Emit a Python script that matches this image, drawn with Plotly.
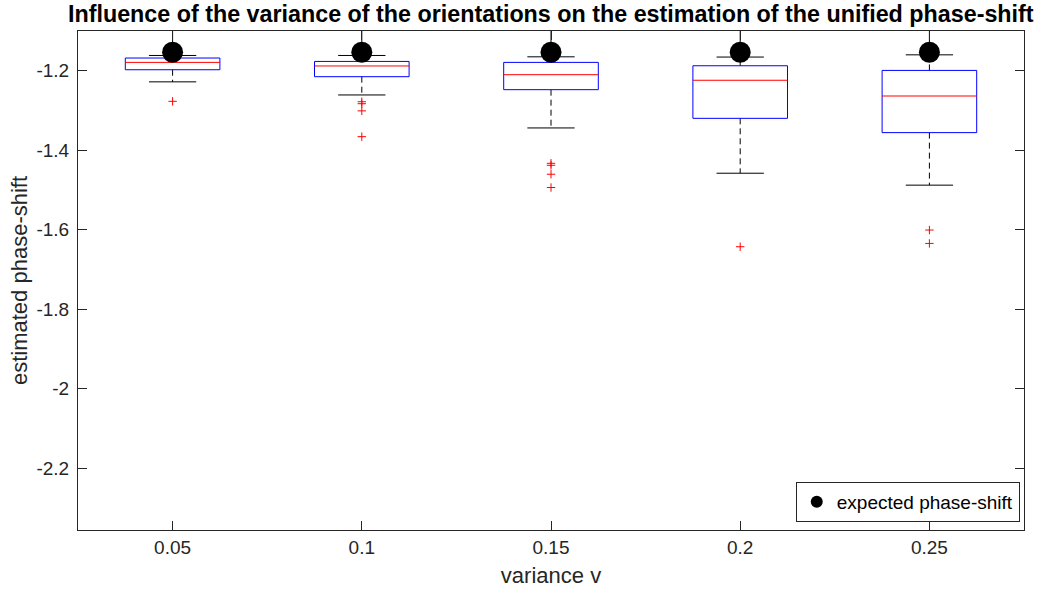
import plotly.graph_objects as go

# ---- data ----
variances = [0.05, 0.10, 0.15, 0.20, 0.25]
tick_labels = ["0.05", "0.1", "0.15", "0.2", "0.25"]
q1 = [-1.1975, -1.215, -1.2477, -1.3198, -1.3558]
median = [-1.179, -1.188, -1.210, -1.224, -1.2636]
q3 = [-1.168, -1.1766, -1.179, -1.1875, -1.1992]
lower_whisker = [-1.228, -1.261, -1.344, -1.458, -1.488]
upper_whisker = [-1.1616, -1.1616, -1.165, -1.1656, -1.160]
outliers = [
    [-1.277],
    [-1.278, -1.283, -1.301, -1.366],
    [-1.433, -1.438, -1.4605, -1.494],
    [-1.643],
    [-1.601, -1.6347],
]
expected = [-1.1535, -1.1535, -1.1535, -1.1535, -1.1535]
y_ticks = [-2.2, -2.0, -1.8, -1.6, -1.4, -1.2]
y_tick_labels = ["-2.2", "-2", "-1.8", "-1.6", "-1.4", "-1.2"]

y_range = [-2.356, -1.1]
x_range = [0.025, 0.275]
box_half = 0.0125
cap_half = 0.00625

# ---- build geometry from data ----
bx, by, mx, my, wx, wy, cx, cy, tx, ty, ox, oy = ([] for _ in range(12))
for i, x in enumerate(variances):
    bx += [x - box_half, x + box_half, x + box_half, x - box_half, x - box_half, None]
    by += [q1[i], q1[i], q3[i], q3[i], q1[i], None]
    mx += [x - box_half, x + box_half, None]
    my += [median[i], median[i], None]
    wx += [x, x, None, x, x, None]
    wy += [q1[i], lower_whisker[i], None, q3[i], upper_whisker[i], None]
    cx += [x - cap_half, x + cap_half, None, x - cap_half, x + cap_half, None]
    cy += [lower_whisker[i], lower_whisker[i], None, upper_whisker[i], upper_whisker[i], None]
    tx += [x, x, None]
    ty += [upper_whisker[i], y_range[1], None]
    for o in outliers[i]:
        ox.append(x)
        oy.append(o)

fig = go.Figure()
fig.add_trace(go.Scatter(x=wx, y=wy, mode="lines", showlegend=False, hoverinfo="skip",
                         line=dict(color="black", width=1, dash="6px,4px")))
fig.add_trace(go.Scatter(x=tx, y=ty, mode="lines", showlegend=False, hoverinfo="skip",
                         line=dict(color="black", width=1)))
fig.add_trace(go.Scatter(x=cx, y=cy, mode="lines", showlegend=False, hoverinfo="skip",
                         line=dict(color="black", width=1)))
fig.add_trace(go.Scatter(x=bx, y=by, mode="lines", showlegend=False,
                         line=dict(color="#0000ff", width=1)))
fig.add_trace(go.Scatter(x=mx, y=my, mode="lines", showlegend=False,
                         line=dict(color="#ff0000", width=1)))
fig.add_trace(go.Scatter(x=ox, y=oy, mode="markers", showlegend=False,
                         marker=dict(symbol="cross-thin", size=6, color="red",
                                     line=dict(color="red", width=1))))
fig.add_trace(go.Scatter(x=variances, y=expected, mode="markers", name="expected phase-shift",
                         marker=dict(symbol="circle", size=21, color="black")))

FONT = "Liberation Sans, Arial, sans-serif"
axis_common = dict(
    showgrid=False, zeroline=False, showline=True, linecolor="#262626", linewidth=1,
    mirror="ticks", ticks="inside", ticklen=9, tickcolor="#262626",
    tickfont=dict(family=FONT, size=19, color="#262626"),
)

fig.update_layout(
    width=1040, height=597,
    margin=dict(l=78, r=16, t=31, b=67),
    paper_bgcolor="white", plot_bgcolor="white",
    font=dict(family=FONT, color="#262626"),
    title=dict(text="<b>Influence of the variance of the orientations on the estimation of the unified phase-shift</b>",
               x=0.5296, xanchor="center", y=0.9765, yanchor="middle",
               font=dict(size=23.3, color="black")),
    xaxis=dict(range=x_range, tickvals=variances, ticktext=tick_labels,
               title=dict(text="variance v", font=dict(size=22), standoff=10), **axis_common),
    yaxis=dict(range=y_range, tickvals=y_ticks, ticktext=y_tick_labels, ticklabelstandoff=4,
               title=dict(text="estimated phase-shift", font=dict(size=22), standoff=2), **axis_common),
    legend=dict(x=0.9955, y=0.016, xanchor="right", yanchor="bottom",
                bgcolor="white", bordercolor="#262626", borderwidth=1,
                font=dict(size=19, color="black"), itemsizing="constant",
                tracegroupgap=0, itemwidth=30),
    showlegend=True,
)

fig.write_html("out.html", post_script="document.body.style.margin='0';",
               config={"displayModeBar": False})
